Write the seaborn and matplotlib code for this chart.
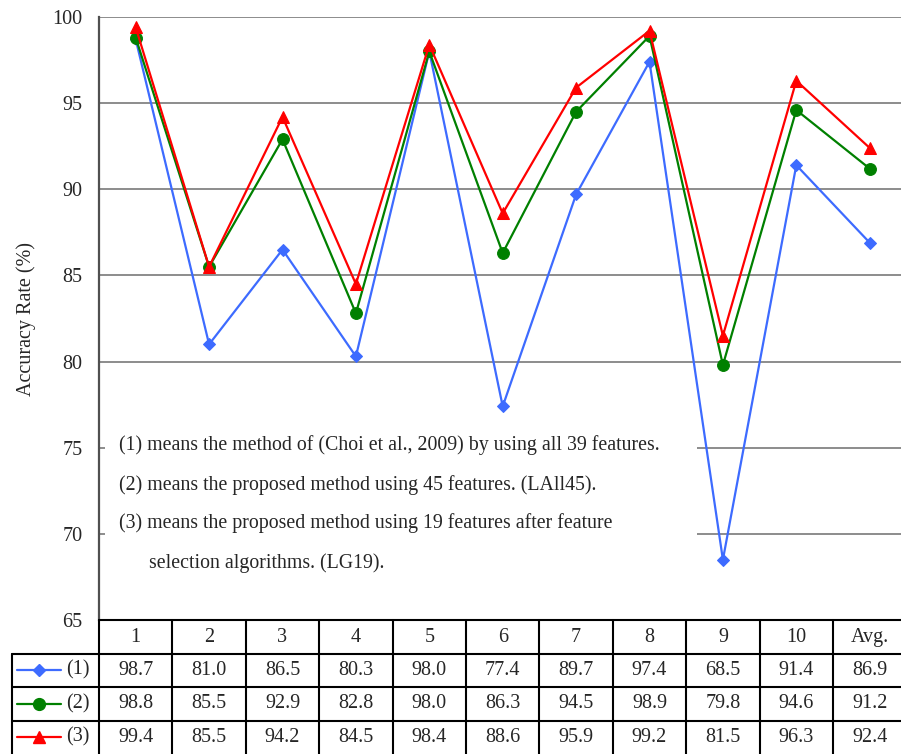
import pandas as pd
import matplotlib
matplotlib.use("Agg")
import matplotlib.pyplot as plt
import seaborn as sns
from matplotlib.patches import Rectangle

# dados
categorias = ["1", "2", "3", "4", "5", "6", "7", "8", "9", "10", "Avg."]
serie1 = [98.7, 81.0, 86.5, 80.3, 98.0, 77.4, 89.7, 97.4, 68.5, 91.4, 86.9]
serie2 = [98.8, 85.5, 92.9, 82.8, 98.0, 86.3, 94.5, 98.9, 79.8, 94.6, 91.2]
serie3 = [99.4, 85.5, 94.2, 84.5, 98.4, 88.6, 95.9, 99.2, 81.5, 96.3, 92.4]
nomes = ["(1)", "(2)", "(3)"]
yticks = [65, 70, 75, 80, 85, 90, 95, 100]
notas = [
    "(1) means the method of (Choi et al., 2009) by using all 39 features.",
    "(2) means the proposed method using 45 features. (LAll45).",
    "(3) means the proposed method using 19 features after feature",
    "      selection algorithms. (LG19).",
]

cores = ["#3D6BFF", "#008000", "#FF0000"]
marcadores = ["D", "o", "^"]
tamanhos = [6.0, 8.5, 8.0]

sns.set_style("white")
plt.rcParams["font.family"] = ["Liberation Serif", "DejaVu Serif"]
plt.rcParams["font.size"] = 14.5

W, H = 901, 754
fig = plt.figure(figsize=(W / 100, H / 100), dpi=100)

# posição dos eixos em pixels
x0, ytop, ybot = 99, 17, 620
colw = 73.4
xmax = -0.5 + (W - x0) / colw

ax = fig.add_axes([x0 / W, (H - ybot) / H, (W - x0) / W, (ybot - ytop) / H])
ax.set_xlim(-0.5, xmax)
ax.set_ylim(65, 100)
ax.set_yticks(yticks)
ax.set_xticks([])
ax.yaxis.grid(True, color="#8c8c8c", linewidth=1.4)
ax.set_axisbelow(True)
for s in ["top", "right", "bottom"]:
    ax.spines[s].set_visible(False)
ax.spines["left"].set_color("#505050")
ax.spines["left"].set_linewidth(1.6)
ax.tick_params(axis="y", length=0, pad=12, labelsize=14.5)

# caixa branca das notas
caixa = Rectangle(((105 - x0) / (W - x0), (ybot - 582) / (ybot - ytop)),
                  (697 - 105) / (W - x0), (582 - 425) / (ybot - ytop),
                  transform=ax.transAxes, facecolor="white", edgecolor="none", zorder=1)
ax.add_patch(caixa)

for vals, c, m, ms in zip([serie1, serie2, serie3], cores, marcadores, tamanhos):
    df = pd.DataFrame({"x": range(len(categorias)), "y": vals})
    sns.lineplot(data=df, x="x", y="y", ax=ax, color=c, marker=m, markersize=ms,
                 markeredgecolor=c, linewidth=1.6, zorder=3)
ax.set_xlabel("")
ax.set_ylabel("Accuracy Rate (%)", fontsize=14.5, labelpad=12)

for i, t in enumerate(notas):
    py = [445, 485, 523, 563][i]
    fig.text(119 / W, 1 - py / H, t, fontsize=14.3, va="center", ha="left")

# tabela de dados
tab = fig.add_axes([x0 / W, 0, (W - x0) / W, (H - ybot) / H])
tab.set_xlim(-0.5, xmax)
tab.set_ylim(0, 4)
tab.axis("off")
xleg = -0.5 + (12 - x0) / colw
lw = 1.5
tab.plot([-0.5, 10.5], [4, 4], color="black", lw=lw, clip_on=False)
for yy in [3, 2, 1]:
    tab.plot([xleg, 10.5], [yy, yy], color="black", lw=lw, clip_on=False)
for k in range(12):
    tab.plot([k - 0.5, k - 0.5], [0, 4], color="black", lw=lw, clip_on=False)
tab.plot([xleg, xleg], [0, 3], color="black", lw=lw, clip_on=False)

for i, cat in enumerate(categorias):
    tab.text(i, 3.47, cat, ha="center", va="center", fontsize=14.5)
for r, vals in enumerate([serie1, serie2, serie3]):
    yc = 2.5 - r
    for i, v in enumerate(vals):
        tab.text(i, yc, f"{v:.1f}", ha="center", va="center", fontsize=14.5)
    # legenda na célula
    lx0 = -0.5 + (17 - x0) / colw
    lx1 = -0.5 + (61 - x0) / colw
    lxm = -0.5 + (39 - x0) / colw
    tab.plot([lx0, lx1], [yc, yc], color=cores[r], lw=1.6, clip_on=False)
    tab.plot([lxm], [yc], color=cores[r], marker=marcadores[r], markersize=tamanhos[r],
             markeredgecolor=cores[r], clip_on=False)
    tab.text(-0.5 + (66 - x0) / colw, yc, nomes[r], ha="left", va="center", fontsize=14.5)

fig.savefig("out.png", dpi=100)
